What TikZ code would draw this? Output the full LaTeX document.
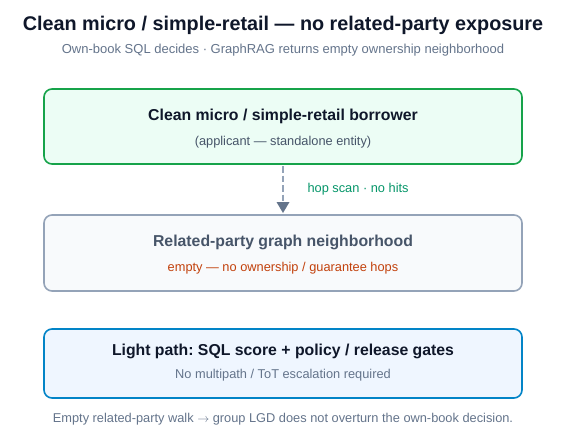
\documentclass[tikz,border=0pt]{standalone}
\usepackage{fontspec}
\setmainfont{Liberation Sans}
\usetikzlibrary{arrows.meta}
\definecolor{titlec}{HTML}{0F172A}
\definecolor{subc}{HTML}{64748B}
\definecolor{greenst}{HTML}{16A34A}
\definecolor{greenfill}{HTML}{ECFDF5}
\definecolor{grayst}{HTML}{94A3B8}
\definecolor{grayfill}{HTML}{F8FAFC}
\definecolor{bluest}{HTML}{0284C7}
\definecolor{bluefill}{HTML}{EFF6FF}
\definecolor{midgray}{HTML}{475569}
\definecolor{orangec}{HTML}{C2410C}
\definecolor{hopc}{HTML}{059669}
\definecolor{arrowc}{HTML}{64748B}
\tikzset{
  box/.style={rounded corners=8pt, line width=1.6pt},
  boxtitle/.style={font=\fontsize{15.8}{18}\selectfont\bfseries, anchor=center},
  smalltext/.style={font=\fontsize{12.8}{15}\selectfont, anchor=center},
}
\begin{document}
\frenchspacing
\begin{tikzpicture}[x=1pt,y=-1pt]
\useasboundingbox[fill=white] (0,0) rectangle (566,447);
\node[font=\fontsize{19.8}{23}\selectfont\bfseries, text=titlec] (title) at (283,25) {Clean micro / simple-retail — no related-party exposure};
\node[font=\fontsize{13}{15}\selectfont, text=subc] (subtitle) at (283,50) {Own-book SQL decides · GraphRAG returns empty ownership neighborhood};
% box 1
\draw[box, draw=greenst, fill=greenfill] (44,89) rectangle (522,164);
\coordinate (b1bot) at (283,166);
\node[boxtitle, text=titlec] (b1t) at (283,116) {Clean micro / simple-retail borrower};
\node[smalltext, text=midgray] (b1s) at (283,142) {(applicant — standalone entity)};
% box 2
\draw[box, draw=grayst, fill=grayfill] (44,215) rectangle (522,291);
\node[boxtitle, text=midgray] (b2t) at (283,242) {Related-party graph neighborhood};
\node[smalltext, text=orangec] (b2s) at (283,268) {empty — no ownership / guarantee hops};
% box 3
\draw[box, draw=bluest, fill=bluefill] (44,329) rectangle (522,398);
\node[boxtitle, text=titlec] (b3t) at (283,351) {Light path: SQL score + policy / release gates};
\node[smalltext, text=subc] (b3s) at (283,375) {No multipath / ToT escalation required};
% arrow
\coordinate (atip) at (283,213);
\draw[grayst, line width=1.8pt, dash pattern=on 6.5pt off 3pt] (b1bot) -- (283,203);
\draw[draw=none, fill=arrowc] (276.5,202) -- (289.5,202) -- (atip) -- cycle;
\node[smalltext, text=hopc, anchor=west] (hop) at (304,189) {hop scan · no hits};
% footer
\node[smalltext, text=subc] (footer) at (283,419) {Empty related-party walk $\rightarrow$ group LGD does not overturn the own-book decision.};
\end{tikzpicture}
\end{document}
